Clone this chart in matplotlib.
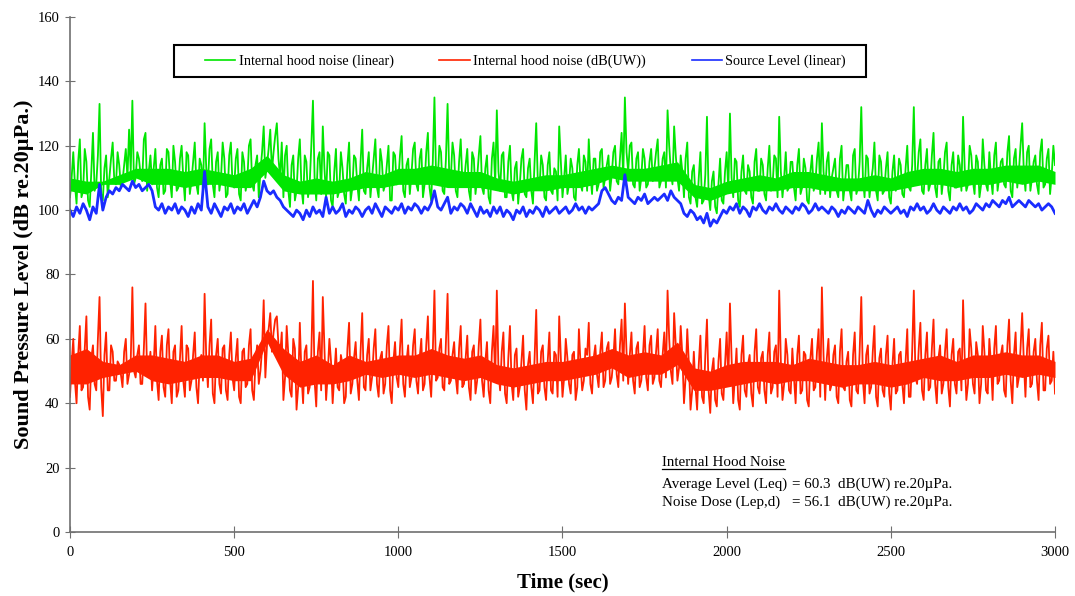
import matplotlib.pyplot as plt
import matplotlib.patches as mpatches
import numpy as np

# Time axis (sec): main readings every 10 s, extra readings at the 5 s marks between them
time_main = np.arange(0, 3001, 10)
time_fine = np.arange(0, 3001, 5)

# Internal hood noise (linear), dB re.20uPa, at 0, 10, 20 ... s
hood_linear = [
    104, 118, 102, 122, 106, 115, 101, 124, 108, 133,
    103, 117, 110, 121, 108, 114, 109, 119, 125, 134,
    110, 116, 109, 124, 112, 108, 119, 104, 116, 106,
    118, 104, 115, 107, 120, 103, 117, 109, 121, 105,
    114, 127, 108, 122, 104, 118, 110, 116, 105, 121,
    107, 119, 103, 115, 109, 122, 106, 117, 112, 126,
    114, 125, 118, 127, 110, 104, 120, 101, 117, 106,
    122, 102, 115, 108, 134, 103, 118, 126, 104, 117,
    101, 119, 106, 113, 102, 121, 107, 116, 103, 125,
    105, 118, 110, 122, 104, 115, 108, 120, 103, 117,
    109, 123, 104, 116, 111, 121, 106, 119, 108, 124,
    103, 135, 109, 118, 105, 133, 110, 117, 104, 122,
    108, 119, 103, 116, 110, 123, 105, 117, 102, 121,
    131, 106, 118, 104, 120, 103, 115, 108, 119, 104,
    116, 102, 127, 107, 114, 103, 118, 105, 112, 126,
    104, 117, 108, 113, 103, 119, 106, 115, 122, 105,
    116, 108, 119, 110, 117, 111, 120, 108, 124, 135,
    112, 121, 107, 118, 110, 116, 108, 119, 113, 122,
    109, 118, 131, 112, 126, 110, 117, 104, 121, 102,
    114, 101, 118, 103, 129, 100, 112, 99, 116, 102,
    118, 130, 104, 115, 101, 117, 105, 112, 102, 119,
    106, 114, 103, 120, 108, 116, 129, 104, 118, 107,
    115, 103, 119, 107, 113, 102, 117, 108, 121, 127,
    105, 118, 110, 116, 104, 120, 108, 114, 103, 119,
    107, 132, 104, 116, 109, 121, 103, 115, 106, 118,
    102, 117, 108, 114, 104, 120, 106, 132, 110, 122,
    105, 119, 108, 124, 104, 116, 110, 121, 103, 118,
    107, 114, 129, 106, 120, 109, 117, 104, 122, 108,
    118, 105, 121, 110, 116, 107, 123, 104, 119, 112,
    127, 106, 120, 110, 117, 105, 122, 108, 119, 111,
    114,
]
# same trace at 5, 15, 25 ... s
hood_linear_mid = [
    110, 108, 115, 104, 119, 103, 112, 106, 117, 105,
    113, 104, 116, 109, 118, 107, 114, 110, 112, 108,
    118, 111, 122, 106, 117, 113, 107, 114, 105, 119,
    109, 120, 106, 116, 110, 118, 105, 115, 108, 116,
    106, 113, 119, 108, 115, 106, 121, 104, 117, 108,
    116, 105, 118, 106, 120, 108, 114, 104, 118, 110,
    119, 112, 123, 116, 121, 117, 106, 114, 103, 116,
    107, 117, 104, 120, 110, 116, 105, 113, 118, 103,
    112, 104, 118, 105, 114, 103, 117, 108, 115, 106,
    113, 104, 116, 107, 119, 106, 114, 103, 118, 108,
    117, 106, 114, 105, 119, 108, 116, 104, 118, 107,
    115, 110, 120, 106, 116, 111, 121, 106, 115, 109,
    114, 106, 118, 105, 117, 107, 113, 104, 116, 108,
    112, 117, 104, 115, 106, 113, 102, 116, 105, 113,
    106, 115, 108, 117, 104, 114, 106, 113, 103, 115,
    110, 105, 116, 104, 114, 108, 117, 106, 111, 116,
    106, 118, 107, 114, 106, 118, 109, 116, 110, 118,
    120, 108, 116, 106, 119, 107, 115, 109, 118, 107,
    116, 107, 120, 108, 117, 106, 112, 116, 104, 112,
    104, 110, 102, 111, 105, 109, 101, 108, 103, 112,
    106, 110, 116, 103, 112, 106, 114, 104, 115, 106,
    116, 105, 113, 106, 117, 104, 112, 110, 106, 115,
    107, 114, 105, 116, 103, 112, 106, 116, 105, 112,
    115, 104, 113, 106, 116, 103, 114, 106, 117, 105,
    115, 110, 117, 104, 113, 106, 117, 105, 113, 104,
    112, 106, 116, 105, 113, 107, 114, 109, 118, 106,
    114, 106, 117, 107, 115, 105, 118, 106, 114, 107,
    117, 106, 113, 108, 117, 105, 115, 108, 114, 106,
    110, 117, 106, 115, 108, 118, 106, 116, 107, 120,
    112, 118, 106, 115, 108, 118, 107, 116, 105, 120,
]

# Internal hood noise dB(UW), at 0, 10, 20 ... s
hood_dbuw = [
    42, 60, 40, 64, 45, 67, 38, 58, 44, 73,
    36, 62, 44, 56, 47, 52, 45, 60, 49, 76,
    48, 58, 46, 71, 50, 44, 64, 41, 61, 42,
    63, 40, 58, 44, 64, 42, 57, 47, 62, 40,
    55, 74, 45, 66, 40, 60, 43, 58, 41, 62,
    44, 60, 40, 57, 46, 63, 41, 58, 50, 72,
    58, 68, 62, 67, 55, 41, 64, 44, 60, 38,
    65, 40, 58, 45, 78, 39, 62, 73, 41, 60,
    40, 57, 44, 52, 42, 65, 46, 59, 41, 68,
    44, 60, 48, 63, 42, 56, 46, 64, 40, 59,
    45, 66, 42, 58, 48, 63, 43, 60, 46, 67,
    42, 75, 48, 60, 44, 74, 47, 59, 43, 64,
    46, 61, 41, 58, 47, 66, 42, 59, 40, 64,
    75, 44, 62, 40, 64, 41, 57, 45, 61, 38,
    56, 40, 69, 44, 58, 41, 62, 43, 55, 67,
    42, 60, 46, 55, 41, 63, 44, 57, 65, 43,
    58, 45, 62, 47, 59, 48, 63, 45, 66, 71,
    46, 62, 43, 59, 47, 64, 44, 61, 48, 63,
    45, 62, 75, 50, 68, 47, 64, 40, 63, 38,
    56, 38, 61, 40, 66, 37, 54, 39, 60, 41,
    62, 71, 40, 57, 38, 61, 42, 55, 39, 63,
    43, 56, 40, 62, 45, 58, 75, 41, 60, 44,
    57, 40, 61, 44, 55, 39, 60, 45, 63, 76,
    41, 60, 46, 58, 40, 63, 44, 56, 39, 62,
    43, 73, 40, 58, 45, 64, 39, 57, 42, 61,
    38, 60, 44, 56, 40, 63, 42, 75, 46, 65,
    41, 62, 45, 66, 40, 58, 46, 63, 39, 60,
    43, 57, 72, 41, 63, 46, 59, 40, 64, 44,
    60, 41, 64, 47, 58, 42, 66, 40, 62, 48,
    68, 42, 63, 46, 60, 41, 65, 44, 61, 47,
    43,
]
# same trace at 5, 15, 25 ... s
hood_dbuw_mid = [
    52, 47, 55, 44, 57, 42, 54, 46, 60, 45,
    55, 44, 58, 47, 53, 49, 56, 46, 53, 50,
    55, 46, 57, 49, 56, 52, 47, 56, 45, 58,
    47, 56, 42, 54, 47, 58, 44, 55, 45, 53,
    47, 54, 58, 43, 55, 46, 57, 44, 55, 48,
    54, 42, 56, 45, 58, 44, 53, 46, 57, 48,
    63, 56, 66, 58, 62, 48, 55, 42, 57, 45,
    49, 56, 43, 55, 47, 56, 44, 57, 49, 53,
    49, 45, 55, 40, 57, 43, 54, 47, 56, 45,
    55, 44, 57, 46, 54, 43, 58, 44, 53, 48,
    57, 46, 53, 45, 58, 47, 54, 44, 58, 48,
    56, 47, 57, 45, 59, 46, 55, 48, 57, 45,
    54, 45, 56, 43, 58, 47, 53, 44, 56, 47,
    50, 56, 43, 54, 46, 55, 42, 53, 44, 52,
    45, 54, 43, 56, 45, 53, 44, 56, 42, 54,
    48, 54, 43, 56, 45, 52, 47, 55, 46, 54,
    49, 56, 45, 57, 46, 54, 49, 58, 47, 56,
    55, 47, 57, 45, 55, 48, 58, 46, 56, 47,
    55, 48, 60, 46, 58, 51, 55, 48, 52, 44,
    45, 52, 42, 55, 44, 50, 41, 53, 43, 52,
    46, 54, 48, 41, 55, 44, 52, 43, 56, 45,
    54, 44, 55, 43, 56, 42, 53, 46, 55, 43,
    48, 55, 43, 56, 41, 54, 44, 56, 42, 55,
    54, 44, 55, 42, 56, 45, 53, 41, 55, 44,
    56, 47, 55, 43, 56, 42, 54, 44, 55, 43,
    52, 43, 55, 46, 53, 42, 56, 48, 57, 44,
    55, 44, 57, 46, 54, 43, 56, 45, 55, 46,
    56, 44, 54, 46, 57, 43, 55, 46, 56, 43,
    52, 57, 46, 55, 44, 58, 47, 55, 45, 57,
    53, 57, 45, 56, 47, 58, 44, 57, 46, 56,
]

# Source level (linear), at 0, 10, 20 ... s
source_level = [
    100, 98, 101, 99, 102, 100, 97, 101, 99, 108,
    100, 104, 106, 105, 107, 106, 108, 107, 106, 109,
    107, 108, 106, 107, 108, 106, 101, 100, 102, 99,
    101, 100, 102, 99, 101, 100, 98, 101, 99, 102,
    100, 112, 101, 99, 102, 100, 98, 101, 100, 102,
    99, 101, 100, 102, 99, 101, 103, 101, 104, 109,
    106, 105, 106, 104, 103, 101, 100, 99, 98, 100,
    99, 97, 100, 98, 101, 99, 100, 98, 104, 99,
    101, 99, 100, 102, 98, 100, 99, 101, 100, 98,
    100, 101, 99, 102, 100, 98, 101, 100, 99, 101,
    100, 102, 99, 101, 100, 102, 101, 99, 101, 100,
    102, 106, 101, 100, 102, 104, 99, 101, 100, 102,
    101, 99, 102, 100, 98, 101, 99, 100, 98, 101,
    99, 101, 98, 100, 99, 97, 100, 99, 101, 98,
    100, 99, 101, 100, 98, 101, 99, 100, 101, 99,
    100, 101, 99, 100, 102, 100, 101, 99, 101, 100,
    101, 102, 106, 107, 105, 103, 102, 104, 103, 111,
    104, 103, 102, 104, 103, 105, 102, 103, 104, 103,
    104, 105, 103, 106, 104, 103, 102, 99, 98, 100,
    99, 97, 98, 96, 99, 95, 97, 96, 98, 100,
    99, 101, 100, 102, 99, 101, 100, 98, 101, 100,
    102, 100, 99, 101, 100, 102, 100, 99, 101, 100,
    99, 101, 100, 102, 101, 99, 100, 102, 100, 101,
    100, 99, 101, 100, 98, 100, 99, 101, 100, 99,
    101, 100, 99, 103, 100, 98, 100, 99, 101, 100,
    99, 100, 101, 99, 100, 98, 101, 100, 102, 100,
    101, 99, 100, 102, 100, 99, 101, 100, 99, 101,
    100, 102, 100, 101, 99, 100, 102, 101, 100, 102,
    101, 103, 102, 101, 103, 102, 104, 101, 102, 103,
    102, 101, 103, 102, 101, 102, 100, 101, 102, 101,
    99,
]

# Solid-looking middle of each dense noise trace, every 50 s
band_time = np.arange(0, 3001, 50)
linear_core_lo = [106, 105, 108, 108, 110, 108, 108, 107, 108, 108, 107, 107, 112, 106, 105, 105,
                  105, 106, 107, 107, 108, 108, 108, 107, 107, 107, 106, 105, 106, 106, 107, 107,
                  108, 110, 109, 109, 109, 109, 104, 103, 105, 106, 106, 106, 107, 107, 106, 106,
                  106, 106, 106, 107, 108, 108, 107, 108, 108, 109, 108, 109, 108]
linear_core_hi = [110, 109, 109, 111, 113, 113, 113, 112, 113, 112, 111, 113, 117, 111, 109, 110,
                  109, 110, 112, 111, 113, 113, 114, 113, 112, 112, 110, 109, 110, 111, 111, 112,
                  113, 114, 113, 113, 114, 115, 108, 107, 109, 110, 111, 110, 112, 112, 111, 110,
                  110, 111, 110, 112, 113, 113, 112, 113, 113, 114, 114, 114, 112]
dbuw_core_lo = [46, 46, 48, 49, 50, 47, 46, 47, 48, 48, 47, 47, 59, 49, 45, 46,
                46, 47, 49, 48, 49, 48, 49, 48, 47, 48, 46, 45, 46, 47, 47, 48,
                49, 51, 48, 49, 49, 52, 44, 44, 45, 46, 47, 46, 47, 47, 46, 45,
                46, 46, 45, 46, 48, 47, 47, 48, 48, 49, 48, 49, 48]
dbuw_core_hi = [55, 57, 53, 52, 55, 55, 54, 53, 55, 55, 53, 54, 63, 57, 53, 55,
                52, 55, 53, 54, 55, 55, 57, 55, 54, 55, 52, 51, 52, 53, 53, 54,
                55, 57, 55, 56, 55, 59, 51, 50, 52, 53, 53, 53, 52, 54, 53, 52,
                52, 53, 52, 53, 54, 55, 53, 55, 55, 56, 55, 55, 53]

# merge the 10 s and 5 s readings into one time-ordered trace
linear_trace = np.empty(len(time_fine))
linear_trace[0::2] = hood_linear
linear_trace[1::2] = hood_linear_mid
dbuw_trace = np.empty(len(time_fine))
dbuw_trace[0::2] = hood_dbuw
dbuw_trace[1::2] = hood_dbuw_mid

green = '#00e600'
red = '#ff2200'
blue = '#1a2cff'

plt.rcParams['font.family'] = ['Liberation Serif', 'DejaVu Serif']

fig = plt.figure(figsize=(10.75, 5.96), dpi=100)
ax = fig.add_axes([0.0651, 0.1074, 0.9163, 0.8641])

ax.fill_between(band_time, linear_core_lo, linear_core_hi, color=green, lw=0)
ax.plot(time_fine, linear_trace, color=green, lw=1.3, label='Internal hood noise (linear)')
ax.fill_between(band_time, dbuw_core_lo, dbuw_core_hi, color=red, lw=0)
ax.plot(time_fine, dbuw_trace, color=red, lw=1.3, label='Internal hood noise (dB(UW))')
ax.plot(time_main, source_level, color=blue, lw=2.0, label='Source Level (linear)')

ax.set_xlim(0, 3000)
ax.set_ylim(0, 160)
ax.set_xticks([0, 500, 1000, 1500, 2000, 2500, 3000])
ax.set_yticks(range(0, 161, 20))

for side in ['top', 'right']:
    ax.spines[side].set_visible(False)
for side in ['left', 'bottom']:
    ax.spines[side].set_color('#707070')
    ax.spines[side].set_linewidth(1.2)
ax.tick_params(axis='y', direction='inout', length=7, color='#707070', labelsize=10.5, pad=4)
ax.tick_params(axis='x', direction='inout', length=8, color='#707070', labelsize=10.5, pad=6)

ax.set_xlabel('Time (sec)', fontsize=15, fontweight='bold', labelpad=10)
ax.set_ylabel('Sound Pressure Level (dB re.20µPa.)', fontsize=16, fontweight='bold', labelpad=3)

# legend entries without frame, box drawn separately to match the wide original box
leg = ax.legend(loc='center', bbox_to_anchor=(0.4624, 0.9146), ncol=3, fontsize=10.3,
                frameon=False, handlelength=2.1, handletextpad=0.25, columnspacing=3.2)
for line in leg.get_lines():
    line.set_linewidth(1.2)
ax.add_patch(mpatches.Rectangle((0.1056, 0.8835), 0.7025, 0.0621, transform=ax.transAxes,
                                fill=True, facecolor='white', edgecolor='black', lw=1.5, zorder=4))
leg.set_zorder(5)

# Summary text
title = ax.text(0.601, 0.134, 'Internal Hood Noise', transform=ax.transAxes, fontsize=10.8, va='center')
ax.text(0.601, 0.093, 'Average Level (Leq)', transform=ax.transAxes, fontsize=10.8, va='center')
ax.text(0.601, 0.058, 'Noise Dose (Lep,d)', transform=ax.transAxes, fontsize=10.8, va='center')
ax.text(0.733, 0.093, '= 60.3  dB(UW) re.20µPa.', transform=ax.transAxes, fontsize=10.8, va='center')
ax.text(0.733, 0.058, '= 56.1  dB(UW) re.20µPa.', transform=ax.transAxes, fontsize=10.8, va='center')

fig.canvas.draw()
bb = title.get_window_extent().transformed(fig.transFigure.inverted())
fig.add_artist(plt.Line2D([bb.x0, bb.x1], [bb.y0 + 0.001, bb.y0 + 0.001], color='black', lw=0.9))

fig.savefig('out.png', dpi=100)
